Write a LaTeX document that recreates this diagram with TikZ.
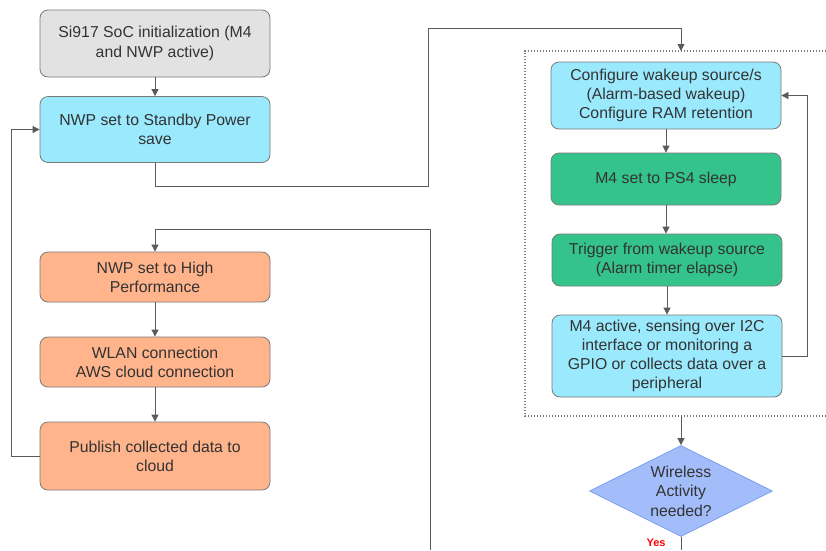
\documentclass[tikz,border=0pt]{standalone}
\usepackage{fontspec}
\setmainfont{Liberation Sans}
\usetikzlibrary{arrows.meta,shapes.geometric}

\definecolor{initgray}{HTML}{E2E2E2}
\definecolor{nwpcyan}{HTML}{9AE9FD}
\definecolor{sleepgreen}{HTML}{33C38B}
\definecolor{cloudorange}{HTML}{FFB48C}
\definecolor{askblue}{HTML}{A2BDF9}
\definecolor{askedge}{HTML}{7C9FEE}
\definecolor{edgegray}{HTML}{7A7A7A}
\definecolor{linegray}{HTML}{5A5A5A}
\definecolor{txtgray}{HTML}{333333}

\tikzset{
  stepbox/.style={draw=edgegray, line width=0.8pt, rounded corners=8pt,
    minimum width=230pt, inner sep=0pt, align=center, text=txtgray,
    font=\fontsize{15.8}{19.2}\selectfont},
  askbox/.style={shape=diamond, aspect=2, draw=askedge, fill=askblue,
    line width=0.8pt, minimum width=183pt, minimum height=91pt, inner sep=0pt,
    align=center, text=txtgray, font=\fontsize{15.8}{19.5}\selectfont},
  flow/.style={draw=linegray, line width=0.8pt},
  group/.style={draw=edgegray, line width=1.2pt, dash pattern=on 1.4pt off 1.6pt}
}

\begin{document}
\begin{tikzpicture}[x=1pt, y=-1pt, >={Triangle[length=7pt,width=7pt]}]
    \useasboundingbox (0,0) rectangle (826,550);

    % Left column
    \node[stepbox, fill=initgray, minimum height=67pt] (init) at (155,43.5)
        {Si917 SoC initialization (M4\\and NWP active)};
    \node[stepbox, fill=nwpcyan, minimum height=66pt] (standby) at (155,129.5)
        {NWP set to Standby Power\\save};
    \node[stepbox, fill=cloudorange, minimum height=50pt] (highperf) at (155,277)
        {NWP set to High\\Performance};
    \node[stepbox, fill=cloudorange, minimum height=50pt] (wlan) at (155,362)
        {WLAN connection\\AWS cloud connection};
    \node[stepbox, fill=cloudorange, minimum height=68pt] (publish) at (155,456)
        {Publish collected data to\\cloud};

    % Sleep/wakeup group
    \draw[group] (826,51) -- (525,51) -- (525,416) -- (826,416);
    \coordinate (grptop) at (681,51);
    \coordinate (grpbot) at (681,416);

    \node[stepbox, fill=nwpcyan, minimum height=67pt] (cfgwake) at (666,95.5)
        {Configure wakeup source/s\\(Alarm-based wakeup)\\Configure RAM retention};
    \node[stepbox, fill=sleepgreen, minimum height=52pt] (ps4) at (666,179)
        {M4 set to PS4 sleep};
    \node[stepbox, fill=sleepgreen, minimum height=52pt] (trigger) at (667,260)
        {Trigger from wakeup source\\(Alarm timer elapse)};
    \node[stepbox, fill=nwpcyan, minimum height=82pt] (sense) at (667,356)
        {M4 active, sensing over I2C\\interface or monitoring a\\GPIO or collects data over a\\peripheral};

    % Decision
    \node[askbox] (wireless) at (681,491) {Wireless\\Activity\\needed?};
    \node[text=red, font=\bfseries\fontsize{11}{12}\selectfont] (yes) at (656,543) {Yes};

    % Connectors
    \draw[flow, ->] (init) -- (standby);
    \draw[flow, ->] (standby.south) |- (428,186) -- (428,28) -| (grptop);
    \draw[flow, ->] (cfgwake) -- (ps4);
    \draw[flow, ->] (ps4.south) -- (ps4.south |- trigger.north);
    \draw[flow, ->] (trigger) -- (sense);
    \draw[flow, ->] (sense.east) -- ++(25,0) |- (cfgwake.east);
    \draw[flow, ->] (grpbot) -- (wireless.north);
    \coordinate (yesout) at (681,550);
    \draw[flow] (wireless.south) -- (yesout);

    \coordinate (backin) at (430,550);
    \draw[flow, ->] (backin) -- (430,229) -| (highperf.north);
    \draw[flow, ->] (highperf) -- (wlan);
    \draw[flow, ->] (wlan) -- (publish);
    \draw[flow, ->] (publish.west) -- ++(-28,0) |- (standby.west);
\end{tikzpicture}
\end{document}
